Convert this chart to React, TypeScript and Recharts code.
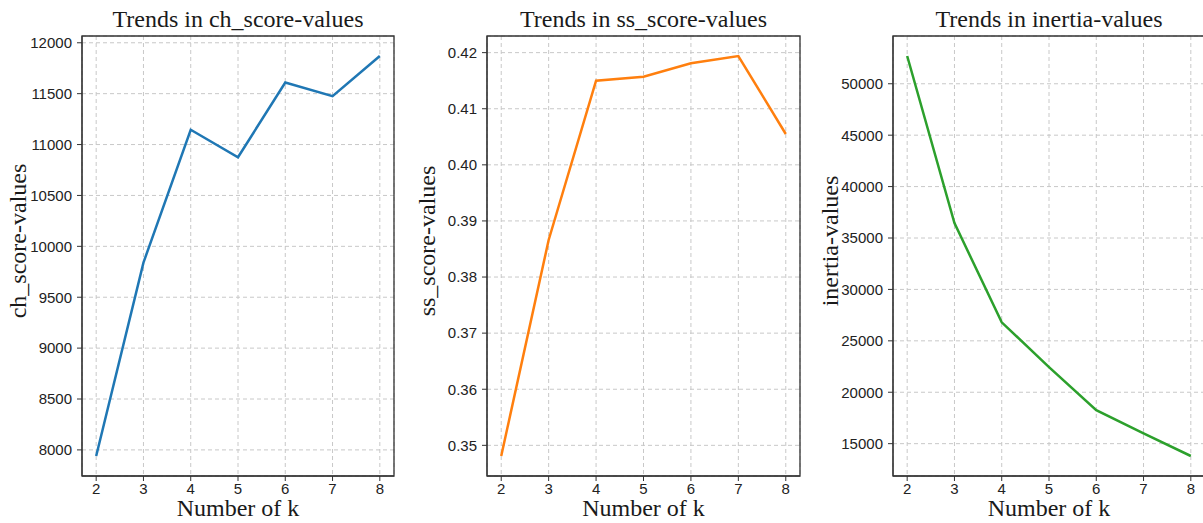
import { CartesianGrid, Line, LineChart, ReferenceArea, XAxis, YAxis } from "recharts"

// k-means evaluation: three small panels side by side, matplotlib look.
const kValues = [2, 3, 4, 5, 6, 7, 8]
const kTicks = [2, 3, 4, 5, 6, 7, 8]

const chScoreValues = [7940, 9840, 11145, 10875, 11610, 11475, 11870]
const chTicks = [8000, 8500, 9000, 9500, 10000, 10500, 11000, 11500, 12000]

const ssScoreValues = [0.3481, 0.3866, 0.415, 0.4157, 0.4181, 0.4194, 0.4055]
const ssTicks = [0.35, 0.36, 0.37, 0.38, 0.39, 0.4, 0.41, 0.42]

const inertiaValues = [52700, 36450, 26800, 22450, 18250, 16000, 13800]
const inertiaTicks = [15000, 20000, 25000, 30000, 35000, 40000, 45000, 50000]

const SERIF = '"Liberation Serif", "Times New Roman", serif'
const SANS = '"Liberation Sans", Arial, sans-serif'
const AXIS_COLOR = "#333"

// matplotlib default: 5% margin around the data range
function padDomain(values: number[]): [number, number] {
  const lo = Math.min(...values)
  const hi = Math.max(...values)
  const pad = (hi - lo) * 0.05
  return [lo - pad, hi + pad]
}

interface PanelProps {
  left: number
  width: number
  title: string
  yLabel: string
  values: number[]
  yTicks: number[]
  color: string
  labelGap: number
  formatY?: (v: number) => string
}

function TrendPanel({ left, width, title, yLabel, values, yTicks, color, labelGap, formatY }: PanelProps) {
  const data = kValues.map((k, i) => ({ k, v: values[i] }))
  const xDomain = padDomain(kValues)
  const yDomain = padDomain(values)
  const tickStyle = { fill: "#222", fontSize: 15, fontFamily: SANS }

  return (
    <div style={{ position: "absolute", left, top: 0 }}>
      <LineChart width={width} height={523} data={data} margin={{ top: 36, right: 6, bottom: 0, left: 0 }}>
        <CartesianGrid stroke="#c8c8c8" strokeDasharray="4 3" />
        <XAxis
          type="number"
          dataKey="k"
          domain={xDomain}
          ticks={kTicks}
          interval={0}
          height={47}
          tickSize={5}
          tickMargin={2}
          stroke={AXIS_COLOR}
          tick={tickStyle}
          label={({ viewBox }: any) => (
            <text
              x={viewBox.x + viewBox.width / 2}
              y={viewBox.y + 40}
              textAnchor="middle"
              fontFamily={SERIF}
              fontSize={24}
              fill="#1a1a1a"
            >
              Number of k
            </text>
          )}
        />
        <YAxis
          type="number"
          domain={yDomain}
          ticks={yTicks}
          interval={0}
          width={82}
          tickSize={5}
          tickMargin={5}
          stroke={AXIS_COLOR}
          tick={tickStyle}
          tickFormatter={formatY}
          label={({ viewBox }: any) => {
            const bx = viewBox.x + viewBox.width - labelGap
            const cy = viewBox.y + viewBox.height / 2 - 15
            return (
              <text
                x={bx}
                y={cy}
                transform={`rotate(-90 ${bx} ${cy})`}
                textAnchor="middle"
                fontFamily={SERIF}
                fontSize={24}
                fill="#1a1a1a"
              >
                {yLabel}
              </text>
            )
          }}
        />
        {/* full box around the plot, title sits on top of it */}
        <ReferenceArea
          x1={xDomain[0]}
          x2={xDomain[1]}
          y1={yDomain[0]}
          y2={yDomain[1]}
          fill="none"
          fillOpacity={0}
          stroke={AXIS_COLOR}
          strokeWidth={1.3}
          label={({ viewBox }: any) => (
            <text
              x={viewBox.x + viewBox.width / 2}
              y={viewBox.y - 9}
              textAnchor="middle"
              fontFamily={SERIF}
              fontSize={24}
              fill="#1a1a1a"
            >
              {title}
            </text>
          )}
        />
        <Line
          type="linear"
          dataKey="v"
          stroke={color}
          strokeWidth={2.5}
          dot={false}
          activeDot={false}
          isAnimationActive={false}
        />
      </LineChart>
    </div>
  )
}

export default function App() {
  return (
    <div
      style={{
        position: "absolute",
        left: 0,
        top: 0,
        width: 1203,
        height: 523,
        overflow: "hidden",
        background: "#fff",
      }}
    >
      <TrendPanel
        left={0}
        width={400}
        title="Trends in ch_score-values"
        yLabel="ch_score-values"
        values={chScoreValues}
        yTicks={chTicks}
        color="#1f77b4"
        labelGap={56}
      />
      <TrendPanel
        left={405}
        width={401}
        title="Trends in ss_score-values"
        yLabel="ss_score-values"
        values={ssScoreValues}
        yTicks={ssTicks}
        color="#ff7f0e"
        labelGap={52}
        formatY={(v) => v.toFixed(2)}
      />
      <TrendPanel
        left={811}
        width={400}
        title="Trends in inertia-values"
        yLabel="inertia-values"
        values={inertiaValues}
        yTicks={inertiaTicks}
        color="#2ca02c"
        labelGap={55}
      />
    </div>
  )
}
